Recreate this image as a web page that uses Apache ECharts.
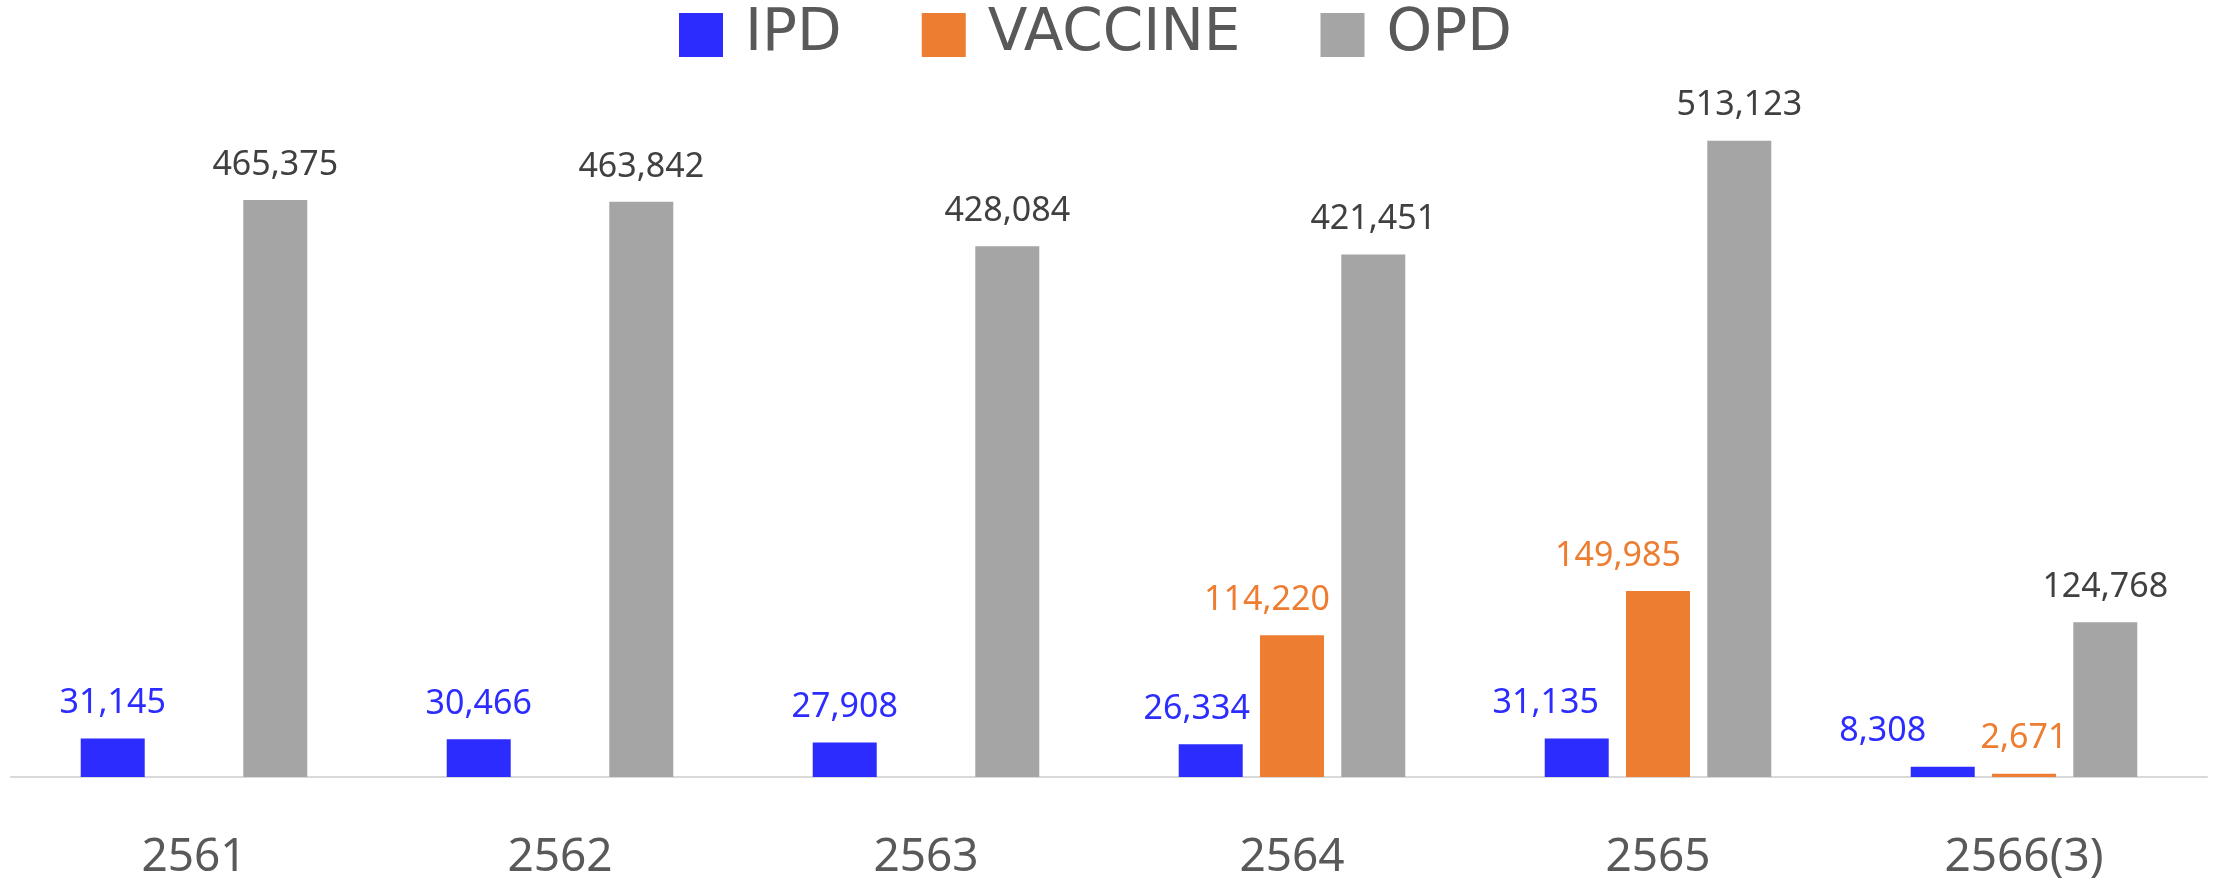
<!DOCTYPE html>
<html>
<head>
<meta charset="utf-8">
<script src="https://cdn.jsdelivr.net/npm/echarts@6/dist/echarts.min.js"></script>
<style>
  html, body { margin: 0; padding: 0; background: #fff; }
  #chart { width: 2215px; height: 883px; }
</style>
</head>
<body>
<div id="chart"></div>
<script>
// data
const years = ["2561", "2562", "2563", "2564", "2565", "2566(3)"]
const ipd = [31145, 30466, 27908, 26334, 31135, 8308]
const vaccine = [null, null, null, 114220, 149985, 2671]
const opd = [465375, 463842, 428084, 421451, 513123, 124768]

// some labels were nudged to the left in the original
const ipdShift = [0, 0, 0, -14, -31, -60]
const vaccineShift = [0, 0, 0, -25, -40, 0]

function withShift(values, shift) {
  return values.map((v, i) => {
    if (v === null) return null
    return { value: v, label: { offset: [shift[i], 0] } }
  })
}

const labelFont = {
  show: true,
  position: "top",
  distance: 18,
  fontFamily: "Noto Sans",
  fontSize: 34,
  formatter: (p) => p.value.toLocaleString("en-US")
}

const myChart = echarts.init(document.getElementById("chart"))
let option = {
  backgroundColor: "#ffffff",
  animation: false,
  legend: {
    left: 674,
    top: 1,
    itemWidth: 44,
    itemHeight: 44,
    itemGap: 80,
    icon: "rect",
    textStyle: {
      fontFamily: "DejaVu Sans",
      fontSize: 58,
      color: "#595959",
      padding: [0, 0, 12, 17]
    }
  },
  grid: {
    left: 11,
    right: 8,
    top: 33,
    bottom: 106
  },
  xAxis: {
    type: "category",
    data: years,
    axisLine: { lineStyle: { color: "#D9D9D9", width: 2 } },
    axisTick: { show: false },
    axisLabel: {
      margin: 58,
      fontFamily: "Noto Sans",
      fontSize: 46,
      color: "#595959"
    }
  },
  yAxis: {
    type: "value",
    min: 0,
    max: 600000,
    show: false,
    splitLine: { show: false }
  },
  series: [
    {
      name: "IPD",
      type: "bar",
      barWidth: 64,
      barGap: "27%",
      itemStyle: { color: "#2C2CFF" },
      label: Object.assign({ color: "#2C2CFF" }, labelFont),
      data: withShift(ipd, ipdShift)
    },
    {
      name: "VACCINE",
      type: "bar",
      barWidth: 64,
      barGap: "27%",
      itemStyle: { color: "#ED7D31" },
      label: Object.assign({ color: "#ED7D31" }, labelFont),
      data: withShift(vaccine, vaccineShift)
    },
    {
      name: "OPD",
      type: "bar",
      barWidth: 64,
      barGap: "27%",
      itemStyle: { color: "#A5A5A5" },
      label: Object.assign({ color: "#404040" }, labelFont),
      data: opd
    }
  ]
}
myChart.setOption(option)
</script>
</body>
</html>
